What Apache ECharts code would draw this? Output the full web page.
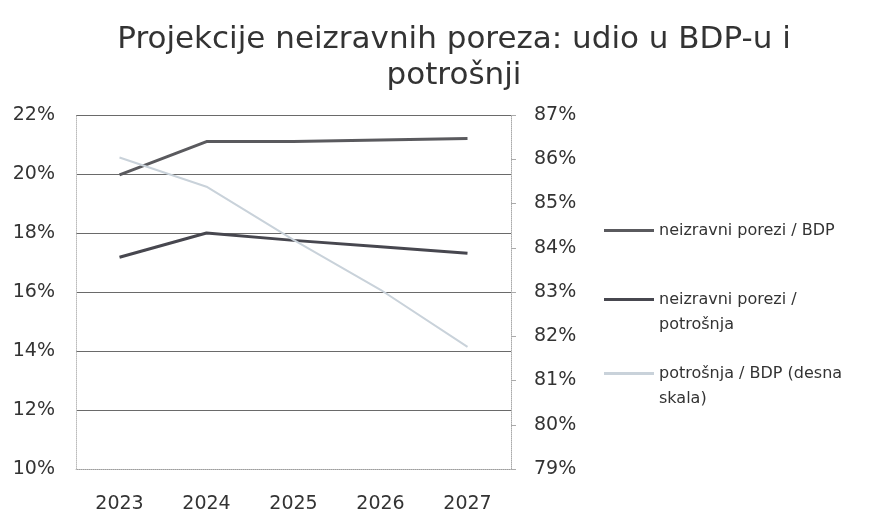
<!DOCTYPE html>
<html>
<head>
<meta charset="utf-8">
<script src="https://cdn.jsdelivr.net/npm/echarts@6/dist/echarts.min.js"></script>
<style>
  html, body { margin: 0; padding: 0; background: #fff; }
  #chart { width: 877px; height: 516px; }
</style>
</head>
<body>
<div id="chart"></div>
<script>
// godine i vrijednosti (u %), ocitano sa slike
var years = ['2023', '2024', '2025', '2026', '2027'];
var porezBdp = [19.97, 21.1, 21.1, 21.15, 21.2];
var porezPotrosnja = [17.18, 18.0, 17.75, 17.53, 17.31];
var potrosnjaBdp = [86.04, 85.38, 84.18, 83.05, 81.76];
var names = ['neizravni porezi / BDP', 'neizravni porezi /\npotrošnja', 'potrošnja / BDP (desna\nskala)'];
var colors = ['#5a5a5e', '#47474f', '#c9d2da'];

var font = 'DejaVu Sans';
var chart = echarts.init(document.getElementById('chart'));

// jedna legenda po stavci, da prvi redak teksta stoji uz crtu
function legendAt(i, top, multi) {
  return {
    orient: 'vertical', left: 604, top: top, padding: 0,
    itemWidth: 50, itemHeight: 3, itemGap: 0,
    icon: 'rect',
    textStyle: { fontFamily: font, fontSize: 16, color: '#333', lineHeight: 25 },
    formatter: function (n) { return multi ? '\n' + n : n; },
    selectedMode: false,
    data: [names[i]]
  };
}

var option = {
  animation: false,
  title: {
    text: 'Projekcije neizravnih poreza: udio u BDP-u i\npotrošnji',
    left: 454, top: 22, textAlign: 'center', padding: 0,
    textStyle: { fontFamily: font, fontSize: 31, fontWeight: 'normal', color: '#333', lineHeight: 36 }
  },
  legend: [legendAt(0, 218, false), legendAt(1, 262, true), legendAt(2, 336, true)],
  grid: { left: 76, right: 366, top: 115, bottom: 47 },
  xAxis: {
    type: 'category', data: years, boundaryGap: true,
    axisLine: { lineStyle: { color: '#bbb', type: 'dotted' } },
    axisTick: { show: false },
    axisLabel: { fontFamily: font, fontSize: 19, color: '#333', margin: 26 }
  },
  yAxis: [{
    type: 'value', min: 10, max: 22, interval: 2, position: 'left',
    axisLine: { show: true, lineStyle: { color: '#bbb', type: 'dotted' } },
    axisTick: { show: false },
    axisLabel: { formatter: '{value}%', fontFamily: font, fontSize: 19, color: '#333', margin: 21 },
    splitLine: { lineStyle: { color: '#6a6a6a', width: 1 } }
  }, {
    type: 'value', min: 79, max: 87, interval: 1, position: 'right',
    axisLine: { show: true, lineStyle: { color: '#aaa', type: 'dotted' } },
    axisTick: { show: true, length: 5, lineStyle: { color: '#aaa' } },
    axisLabel: { formatter: '{value}%', fontFamily: font, fontSize: 19, color: '#333', margin: 23 },
    splitLine: { show: false }
  }],
  series: [{
    name: names[0], type: 'line', data: porezBdp, yAxisIndex: 0,
    symbol: 'none', lineStyle: { color: colors[0], width: 3 }, itemStyle: { color: colors[0] }
  }, {
    name: names[1], type: 'line', data: porezPotrosnja, yAxisIndex: 0,
    symbol: 'none', lineStyle: { color: colors[1], width: 3 }, itemStyle: { color: colors[1] }
  }, {
    name: names[2], type: 'line', data: potrosnjaBdp, yAxisIndex: 1,
    symbol: 'none', lineStyle: { color: colors[2], width: 2 }, itemStyle: { color: colors[2] }
  }]
};

chart.setOption(option);
</script>
</body>
</html>
